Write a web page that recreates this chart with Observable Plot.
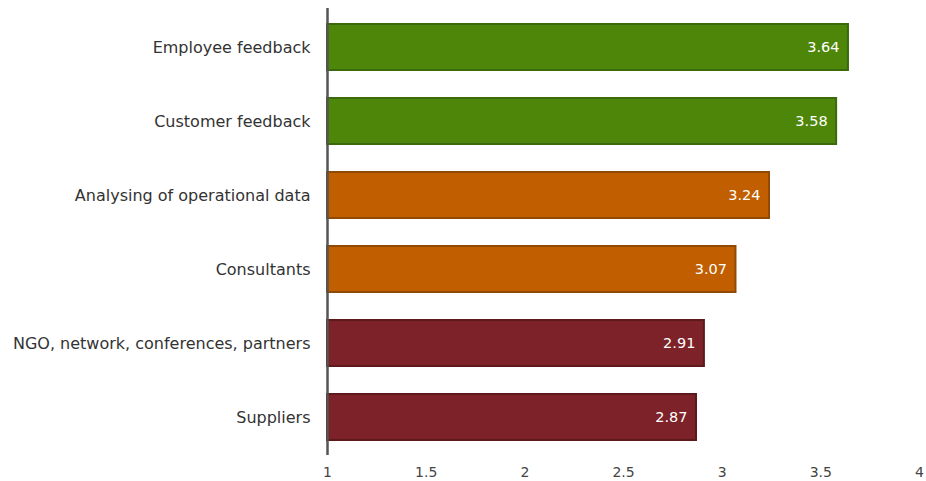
<!DOCTYPE html>
<html>
<head>
<meta charset="utf-8">
<script src="https://cdn.jsdelivr.net/npm/d3@7"></script>
<script src="https://cdn.jsdelivr.net/npm/@observablehq/plot@0.6"></script>
<style>
  html, body { margin: 0; padding: 0; background: #fff; }
  #chart { width: 926px; height: 481px; }
</style>
</head>
<body>
<div id="chart"></div>
<script>
const categories = ["Employee feedback", "Customer feedback", "Analysing of operational data", "Consultants", "NGO, network, conferences, partners", "Suppliers"];
const values = [3.64, 3.58, 3.24, 3.07, 2.91, 2.87];
const groups = ["high", "high", "mid", "mid", "low", "low"];
const xTicks = [1, 1.5, 2, 2.5, 3, 3.5, 4];

const data = categories.map((c, i) => ({category: c, value: values[i], group: groups[i]}));
const groupDomain = ["high", "mid", "low"];
const fills = ["#4e860a", "#c05e00", "#7c2228"];
const strokes = ["#3b6a0c", "#8f4a06", "#5c1a1d"];

const chart = Plot.plot({
  width: 926,
  height: 481,
  marginTop: 8,
  marginBottom: 26,
  marginLeft: 327,
  marginRight: 7,
  style: {fontFamily: "DejaVu Sans, sans-serif", fontSize: "13px", color: "#444", background: "#fff"},
  x: {domain: [1, 4], ticks: xTicks, tickFormat: d => String(d), label: null},
  y: {domain: categories, paddingInner: 0.38, paddingOuter: 0.19, label: null},
  color: {domain: groupDomain, range: fills},
  marks: [
    Plot.barX(data, {
      y: "category", x1: 1, x2: "value", fill: "group",
      stroke: d => strokes[groupDomain.indexOf(d.group)], strokeWidth: 2
    }),
    Plot.text(data, {
      y: "category", x: "value", text: d => d.value.toFixed(2),
      textAnchor: "end", dx: -9, fill: "white", fontSize: 14.5
    }),
    Plot.ruleX([1], {stroke: "#555", strokeWidth: 2.5}),
    Plot.axisX({ticks: xTicks, tickSize: 0, tickPadding: 12, tickFormat: d => String(d), fontSize: 14, fill: "#444", label: null}),
    Plot.axisY({tickSize: 0, tickPadding: 17, fontSize: 16, fill: "#333", label: null})
  ]
});
document.getElementById("chart").append(chart);
</script>
</body>
</html>
